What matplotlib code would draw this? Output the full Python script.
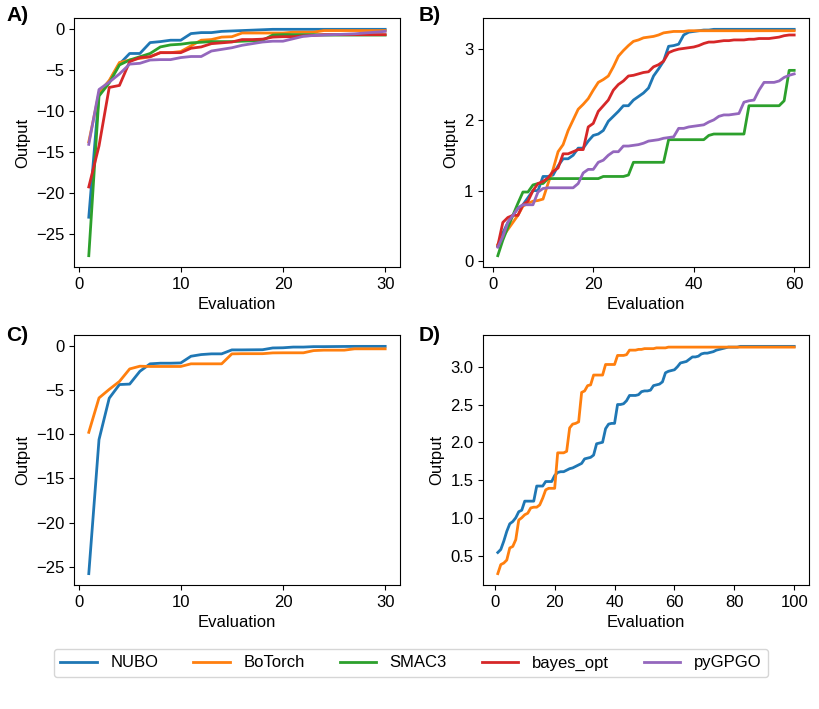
import matplotlib
matplotlib.use("Agg")
from matplotlib import pyplot as plt

plt.rcParams["font.family"] = ["Liberation Sans", "DejaVu Sans"]
plt.rcParams["font.size"] = 12

names = ["NUBO", "BoTorch", "SMAC3", "bayes_opt", "pyGPGO"]
colours = ["#1f77b4", "#ff7f0e", "#2ca02c", "#d62728", "#9467bd"]

# A) 30 evaluations, all five packages
a_nubo = [-23.0, -7.8, -6.4, -4.3, -3.0, -3.0, -1.67, -1.55, -1.38, -1.38,
          -0.57, -0.45, -0.45, -0.3, -0.25, -0.2, -0.15, -0.1, -0.05, -0.05,
          -0.05, -0.05, -0.05, -0.05, -0.05, -0.05, -0.05, -0.05, -0.05, -0.05]
a_botorch = [-13.8, -7.8, -6.3, -4.1, -3.8, -3.6, -3.4, -2.9, -2.9, -2.76,
             -2.07, -1.38, -1.3, -1.0, -0.95, -0.5, -0.5, -0.5, -0.5, -0.5,
             -0.4, -0.4, -0.4, -0.2, -0.2, -0.2, -0.2, -0.2, -0.2, -0.2]
a_smac = [-27.7, -8.2, -6.6, -4.4, -3.8, -3.4, -3.0, -2.2, -1.95, -1.87,
          -1.7, -1.63, -1.55, -1.55, -1.55, -1.5, -1.45, -1.4, -0.75, -0.7,
          -0.7, -0.7, -0.7, -0.75, -0.75, -0.75, -0.75, -0.75, -0.75, -0.75]
a_bayes = [-19.3, -14.3, -7.15, -6.9, -4.0, -3.5, -3.4, -2.9, -2.9, -2.9,
           -2.36, -2.2, -1.8, -1.7, -1.6, -1.3, -1.3, -1.25, -1.0, -0.95,
           -0.95, -0.85, -0.8, -0.7, -0.7, -0.7, -0.7, -0.7, -0.7, -0.7]
a_pygpgo = [-14.1, -7.4, -6.5, -5.5, -4.3, -4.2, -3.8, -3.75, -3.75, -3.5,
            -3.37, -3.37, -2.7, -2.5, -2.3, -2.0, -1.8, -1.6, -1.5, -1.5,
            -1.2, -0.9, -0.8, -0.75, -0.7, -0.65, -0.6, -0.5, -0.4, -0.3]

# B) 60 evaluations, all five packages
b_nubo = [0.22, 0.4, 0.55, 0.65, 0.75, 0.8, 0.9, 1.0, 1.0, 1.2,
          1.2, 1.22, 1.35, 1.45, 1.45, 1.5, 1.6, 1.6, 1.7, 1.78,
          1.8, 1.85, 1.98, 2.05, 2.12, 2.2, 2.2, 2.28, 2.33, 2.38,
          2.45, 2.62, 2.72, 2.83, 3.04, 3.05, 3.07, 3.2, 3.24, 3.25,
          3.26, 3.27, 3.27, 3.28, 3.28, 3.28, 3.28, 3.28, 3.28, 3.28,
          3.28, 3.28, 3.28, 3.28, 3.28, 3.28, 3.28, 3.28, 3.28, 3.28]
b_botorch = [0.24, 0.35, 0.45, 0.55, 0.65, 0.78, 0.82, 0.85, 0.86, 0.88,
             1.1, 1.3, 1.55, 1.65, 1.85, 2.0, 2.15, 2.22, 2.3, 2.42,
             2.53, 2.57, 2.62, 2.75, 2.9, 2.98, 3.05, 3.11, 3.13, 3.16,
             3.17, 3.18, 3.2, 3.23, 3.24, 3.25, 3.25, 3.25, 3.26, 3.26,
             3.26, 3.26, 3.26, 3.26, 3.26, 3.26, 3.26, 3.26, 3.26, 3.26,
             3.26, 3.26, 3.26, 3.26, 3.26, 3.26, 3.26, 3.26, 3.26, 3.26]
b_smac = [0.08, 0.3, 0.48, 0.65, 0.82, 0.98, 0.98, 1.08, 1.1, 1.1,
          1.17, 1.17, 1.17, 1.17, 1.17, 1.17, 1.17, 1.17, 1.17, 1.17,
          1.17, 1.2, 1.2, 1.2, 1.2, 1.2, 1.22, 1.4, 1.4, 1.4,
          1.4, 1.4, 1.4, 1.4, 1.72, 1.72, 1.72, 1.72, 1.72, 1.72,
          1.72, 1.72, 1.78, 1.8, 1.8, 1.8, 1.8, 1.8, 1.8, 1.8,
          2.2, 2.2, 2.2, 2.2, 2.2, 2.2, 2.2, 2.27, 2.7, 2.7]
b_bayes = [0.22, 0.55, 0.62, 0.65, 0.65, 0.8, 0.85, 1.0, 1.1, 1.13,
           1.18, 1.27, 1.32, 1.52, 1.52, 1.55, 1.58, 1.58, 1.9, 1.95,
           2.12, 2.2, 2.28, 2.42, 2.5, 2.55, 2.62, 2.63, 2.65, 2.67,
           2.68, 2.75, 2.78, 2.83, 2.95, 2.98, 3.0, 3.01, 3.02, 3.03,
           3.05, 3.08, 3.1, 3.1, 3.11, 3.12, 3.12, 3.13, 3.13, 3.13,
           3.14, 3.14, 3.15, 3.15, 3.15, 3.16, 3.17, 3.19, 3.2, 3.2]
b_pygpgo = [0.2, 0.35, 0.55, 0.65, 0.75, 0.8, 0.8, 0.8, 0.98, 1.03,
            1.04, 1.04, 1.04, 1.04, 1.04, 1.04, 1.1, 1.25, 1.3, 1.3,
            1.4, 1.43, 1.5, 1.55, 1.55, 1.63, 1.63, 1.64, 1.65, 1.67,
            1.7, 1.71, 1.72, 1.74, 1.75, 1.76, 1.88, 1.88, 1.9, 1.91,
            1.92, 1.93, 1.97, 2.0, 2.05, 2.07, 2.07, 2.08, 2.09, 2.25,
            2.27, 2.28, 2.42, 2.53, 2.53, 2.53, 2.55, 2.6, 2.63, 2.65]

# C) 30 evaluations, NUBO vs BoTorch
c_nubo = [-25.8, -10.6, -5.9, -4.35, -4.3, -2.85, -2.0, -1.93, -1.93, -1.9,
          -1.14, -0.95, -0.87, -0.87, -0.42, -0.42, -0.41, -0.4, -0.2, -0.18,
          -0.1, -0.1, -0.05, -0.05, -0.04, -0.03, -0.02, -0.02, -0.02, -0.02]
c_botorch = [-9.77, -5.87, -4.9, -4.0, -2.58, -2.27, -2.3, -2.3, -2.3, -2.3,
             -2.0, -2.0, -2.0, -2.0, -0.87, -0.85, -0.85, -0.85, -0.76, -0.75,
             -0.75, -0.75, -0.5, -0.45, -0.45, -0.45, -0.3, -0.3, -0.3, -0.3]

# D) 100 evaluations, NUBO vs BoTorch
d_nubo = [0.54, 0.58, 0.69, 0.82, 0.92, 0.95, 1.0, 1.08, 1.1, 1.22,
          1.22, 1.22, 1.22, 1.42, 1.42, 1.42, 1.48, 1.48, 1.48, 1.56,
          1.6, 1.61, 1.61, 1.63, 1.65, 1.66, 1.68, 1.7, 1.72, 1.78,
          1.79, 1.8, 1.83, 1.98, 1.99, 2.0, 2.18, 2.24, 2.25, 2.25,
          2.5, 2.5, 2.51, 2.55, 2.62, 2.62, 2.62, 2.63, 2.67, 2.68,
          2.68, 2.69, 2.75, 2.76, 2.77, 2.8, 2.92, 2.94, 2.95, 2.96,
          3.0, 3.05, 3.06, 3.07, 3.1, 3.13, 3.13, 3.14, 3.17, 3.18,
          3.18, 3.19, 3.2, 3.22, 3.23, 3.24, 3.25, 3.26, 3.26, 3.26,
          3.26, 3.27, 3.27, 3.27, 3.27, 3.27, 3.27, 3.27, 3.27, 3.27,
          3.27, 3.27, 3.27, 3.27, 3.27, 3.27, 3.27, 3.27, 3.27, 3.27]
d_botorch = [0.26, 0.38, 0.4, 0.44, 0.6, 0.62, 0.71, 0.97, 1.0, 1.04,
             1.06, 1.13, 1.14, 1.14, 1.17, 1.26, 1.37, 1.39, 1.39, 1.39,
             1.86, 1.86, 1.86, 1.88, 2.19, 2.24, 2.25, 2.27, 2.66, 2.68,
             2.75, 2.76, 2.89, 2.89, 2.89, 2.89, 3.03, 3.03, 3.03, 3.03,
             3.15, 3.15, 3.15, 3.16, 3.22, 3.22, 3.22, 3.23, 3.23, 3.24,
             3.24, 3.24, 3.24, 3.25, 3.25, 3.25, 3.25, 3.26, 3.26, 3.26,
             3.26, 3.26, 3.26, 3.26, 3.26, 3.26, 3.26, 3.26, 3.26, 3.26,
             3.26, 3.26, 3.26, 3.26, 3.26, 3.26, 3.26, 3.26, 3.26, 3.26,
             3.26, 3.26, 3.26, 3.26, 3.26, 3.26, 3.26, 3.26, 3.26, 3.26,
             3.26, 3.26, 3.26, 3.26, 3.26, 3.26, 3.26, 3.26, 3.26, 3.26]

panels = [
    ("A)", [a_nubo, a_botorch, a_smac, a_bayes, a_pygpgo]),
    ("B)", [b_nubo, b_botorch, b_smac, b_bayes, b_pygpgo]),
    ("C)", [c_nubo, c_botorch]),
    ("D)", [d_nubo, d_botorch]),
]

fig = plt.figure(figsize=(8.2, 7.09), dpi=100)

# axes boxes in figure fractions (left, bottom, width, height)
boxes = [(0.0902, 0.6234, 0.3976, 0.3512),
         (0.5890, 0.6234, 0.3976, 0.3512),
         (0.0902, 0.1749, 0.3976, 0.3526),
         (0.5890, 0.1749, 0.3976, 0.3526)]
label_pos = [(0.008, 0.991), (0.511, 0.991), (0.008, 0.540), (0.511, 0.540)]

handles = []
for (tag, series), box, lp in zip(panels, boxes, label_pos):
    ax = fig.add_axes(box)
    for k, ys in enumerate(series):
        xs = list(range(1, len(ys) + 1))
        line, = ax.plot(xs, ys, color=colours[k], lw=2, label=names[k])
        if tag == "A)":
            handles.append(line)
    ax.set_xlabel("Evaluation")
    ax.set_ylabel("Output")
    fig.text(lp[0], lp[1], tag, fontsize=15, fontweight="bold", va="top", ha="left")

fig.legend(handles=handles, loc="center", bbox_to_anchor=(0.501, 0.0649),
           ncol=5, fontsize=12, columnspacing=2.1, handlelength=2.2)

fig.savefig("out.png", dpi=100)
